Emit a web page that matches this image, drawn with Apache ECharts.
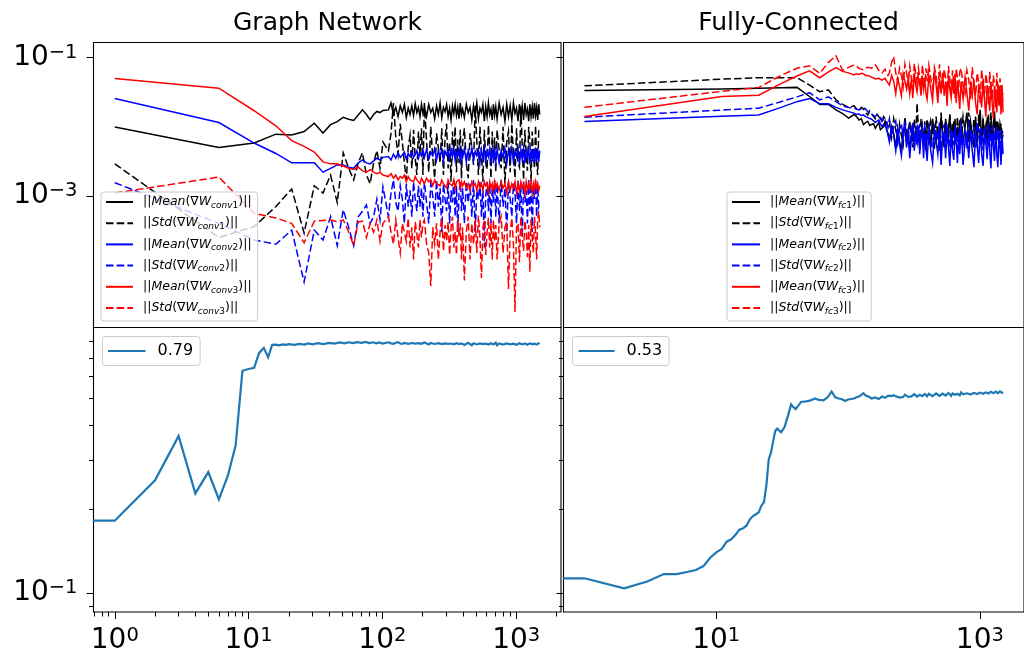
<!DOCTYPE html>
<html>
<head>
<meta charset="utf-8">
<script src="https://cdn.jsdelivr.net/npm/echarts@6/dist/echarts.min.js"></script>
<style>
html, body { margin: 0; padding: 0; background: #fff; }
#chart { width: 1024px; height: 655px; }
</style>
</head>
<body>
<div id="chart"></div>
<script>
// ---- sampled epochs ----
const epochTail = [111,116,121,126,131,136,141,146,151,156,161,166,171,176,181,186,191,196,201,
  206,214,222,230,238,246,254,262,270,278,286,294,302,310,318,326,334,342,350,358,366,374,382,390,398,
  410,424,438,452,466,480,494,508,522,536,550,564,578,592,606,620,634,648,662,676,690,704,
  720,746,772,798,824,850,876,902,928,954,980,1006,1032,1058,1084,1110,1136,1162,1188,1214,1240,1266,1292,1318,1344,1370,1396,1422,1448,1474,1500];
const epochsConv = [1,6,11,16,21,26,31,36,41,46,51,56,61,66,71,76,81,86,91,96,101].concat(epochTail);
const epochsFc = [1,11,21,31,41,51,61,71,81,91,101].concat(epochTail);
const epochsAccConv = [0.69,1,2,3,4,5,6,7,8,9,10,11,12,13,14,15,16,17,18,19,20,
  22,24,26,28,30,33,36,40,44,48,52,56,60,65,70,75,80,85,90,95,100].concat(epochTail);
const epochsAccFc = [0.69,1,2,3,4,5,6,7,8,9,10,11,12,13,14,15,16,17,18,19,20,
  21,22,23,24,25,26,27,28,29,30,31,32,33,34,35,36,37,38,39,40,
  44,48,52,56,60,65,70,75,80,85,90,95,100].concat(epochTail);

// ---- graph network: gradient norms per layer ----
const meanConv1 = [0.0099,0.0050,0.0058,0.0078,0.0076,0.0085,0.0112,0.0081,0.0107,0.0118,0.0137,0.0128,0.0123,0.0148,0.0175,0.0150,0.0126,0.0150,0.0166,0.0160,0.0172,
  0.0175,0.022,0.0150,0.019,0.0140,0.020,0.0160,0.021,0.0135,0.0185,0.0150,0.020,0.0145,0.0215,0.0160,0.0190,0.0140,0.021,0.0155,
  0.0195,0.0140,0.021,0.0160,0.0185,0.0130,0.020,0.0150,0.022,0.0135,0.019,0.0165,0.021,0.0140,0.0185,0.0125,0.020,0.0155,0.021,0.0145,0.0190,0.0130,0.022,0.0150,0.0180,
  0.0135,0.021,0.0160,0.0190,0.0125,0.020,0.0145,0.022,0.0130,0.0185,0.0160,0.021,0.0120,0.0195,0.0140,0.022,0.0150,0.0180,0.0125,0.021,0.0145,0.0195,
  0.0130,0.022,0.0150,0.0190,0.0120,0.021,0.0140,0.0200,0.0125,0.022,0.0155,0.0185,0.0120,0.021,0.0135,0.0200,0.0125,0.022,0.0150,0.0180,0.0120,0.021,0.0140,0.0195,0.0130,0.022,0.0145,0.0190,0.0125,0.021,0.0150];
const stdConv1 = [0.0029,0.00025,0.00036,0.0007,0.00126,0.00029,0.0014,0.0011,0.0020,0.0008,0.0042,0.0025,0.0017,0.0030,0.0042,0.0020,0.0015,0.0030,0.0045,0.0025,0.0060,
  0.0045,0.0080,0.022,0.0070,0.0040,0.011,0.0060,0.0030,0.0017,0.0050,0.0075,0.0025,0.0090,0.0035,0.0020,0.0085,0.0040,0.0095,0.0020,
  0.022,0.0060,0.0022,0.0100,0.0035,0.0018,0.0080,0.0050,0.0030,0.0095,0.0020,0.0070,0.0110,0.0025,0.0060,0.0016,0.0085,0.0040,0.0100,0.0022,0.0065,0.0030,0.0090,0.0018,0.0060,
  0.0095,0.0030,0.0018,0.0080,0.0050,0.0028,0.020,0.0060,0.0020,0.0100,0.0040,0.0016,0.0090,0.0035,0.0024,0.0105,0.0050,0.0018,0.0085,0.0030,0.0070,0.0022,
  0.0090,0.0045,0.0025,0.0100,0.0015,0.0060,0.0085,0.0022,0.0110,0.0040,0.0018,0.0095,0.0030,0.0026,0.020,0.0050,0.0017,0.0090,0.0035,0.0023,0.0100,0.0060,0.0016,0.0085,0.0040,0.0025,0.0105,0.0030,0.0020,0.0090,0.0090];
const meanConv2 = [0.0255,0.0115,0.0058,0.0041,0.0030,0.0030,0.0030,0.0022,0.0025,0.0028,0.0028,0.0026,0.0025,0.0030,0.0033,0.0030,0.0029,0.0032,0.0035,0.0033,0.0036,
  0.0037,0.0033,0.0040,0.0035,0.0042,0.0036,0.0039,0.0043,0.0034,0.0041,0.0037,0.0044,0.0036,0.0040,0.0045,0.0035,0.0042,0.0038,0.0046,
  0.0036,0.0047,0.0034,0.0043,0.0038,0.0048,0.0033,0.0045,0.0037,0.0047,0.0032,0.0044,0.0039,0.0048,0.0034,0.0046,0.0036,0.0049,0.0033,0.0044,0.0038,0.0047,0.0032,0.0045,0.0036,
  0.0048,0.0031,0.0045,0.0036,0.0049,0.0032,0.0044,0.0038,0.0047,0.0030,0.0046,0.0035,0.0049,0.0031,0.0044,0.0037,0.0048,0.0030,0.0046,0.0034,0.0049,0.0032,
  0.0047,0.0030,0.0045,0.0036,0.0049,0.0029,0.0046,0.0034,0.0048,0.0031,0.0044,0.0037,0.0049,0.0029,0.0046,0.0033,0.0048,0.0030,0.0045,0.0036,0.0049,0.0029,0.0047,0.0032,0.0048,0.0030,0.0044,0.0035,0.0049,0.0031,0.0045];
const stdConv2 = [0.00155,0.0004,0.00023,0.0002,0.00032,0.000057,0.00032,0.00023,0.0005,0.00019,0.00063,0.00035,0.00019,0.0005,0.0006,0.00074,0.0004,0.0005,0.0009,0.00045,0.00135,
  0.0005,0.0011,0.0017,0.0008,0.0006,0.0014,0.0009,0.0004,0.0015,0.0007,0.0012,0.0005,0.0016,0.0009,0.0006,0.0014,0.0007,0.0013,0.0005,
  0.0016,0.0008,0.0004,0.0015,0.0010,0.0005,0.0017,0.0007,0.0013,0.0003,0.0015,0.0009,0.0006,0.0016,0.0004,0.0012,0.0008,0.0017,0.0005,0.0014,0.0003,0.0011,0.0016,0.0006,0.0013,
  0.0004,0.0016,0.0008,0.0015,0.0005,0.0017,0.0003,0.0012,0.0009,0.0016,0.0005,0.0014,0.00018,0.0010,0.0016,0.0006,0.0015,0.0004,0.0013,0.0008,0.0017,0.0005,
  0.0015,0.0004,0.0017,0.0007,0.0013,0.0003,0.0016,0.0009,0.0005,0.0015,0.0011,0.0004,0.0017,0.0006,0.0014,0.00025,0.0016,0.0008,0.0012,0.0004,0.0017,0.0006,0.0015,0.0003,0.0013,0.0009,0.0017,0.0005,0.0014,0.0007,0.0008];
const meanConv3 = [0.0497,0.036,0.017,0.0103,0.0063,0.0052,0.0043,0.0031,0.0029,0.0029,0.0027,0.0025,0.0024,0.0026,0.0023,0.0022,0.0024,0.0022,0.0021,0.0022,0.0020,
  0.0019,0.0021,0.0018,0.0020,0.0017,0.0019,0.0018,0.0020,0.0016,0.0019,0.0017,0.0018,0.0016,0.0019,0.0017,0.0018,0.0015,0.0018,0.0017,
  0.0015,0.0018,0.0016,0.0017,0.0014,0.0017,0.0015,0.0016,0.0014,0.0017,0.0015,0.0016,0.0013,0.0017,0.0015,0.0016,0.0014,0.0017,0.0013,0.0016,0.0015,0.0017,0.0013,0.0016,0.0014,
  0.0016,0.0013,0.0015,0.0012,0.0016,0.0014,0.0015,0.0012,0.0016,0.0013,0.0015,0.0012,0.0016,0.0014,0.0015,0.0011,0.0016,0.0013,0.0015,0.0012,0.0016,0.0013,
  0.0015,0.0012,0.0016,0.0013,0.0015,0.0011,0.0016,0.0012,0.0015,0.0013,0.0016,0.0011,0.0015,0.0012,0.0016,0.0013,0.0015,0.0011,0.0016,0.0012,0.0015,0.0013,0.0016,0.0011,0.0015,0.0012,0.0016,0.0013,0.0015,0.0012,0.0014];
const stdConv3 = [0.0011,0.00187,0.00056,0.00048,0.0004,0.00021,0.00043,0.00044,0.00045,0.00042,0.00045,0.00030,0.00019,0.00042,0.00043,0.00025,0.00040,0.00030,0.00045,0.00022,0.00040,
  0.00050,0.00030,0.00020,0.00045,0.00025,0.00015,0.00040,0.00030,0.00022,0.00048,0.00018,0.00035,0.00012,0.00042,0.00028,0.00018,0.00045,0.00025,0.00040,
  0.00045,0.00020,0.00015,0.00005,0.00035,0.00020,0.00040,0.00012,0.00030,0.00048,0.00016,0.00038,0.00022,0.00042,0.00014,0.00035,0.00050,0.00018,0.00030,0.00014,0.00045,0.00025,0.00040,0.00012,0.00035,
  0.00006,0.00030,0.00050,0.00012,0.00040,0.00020,0.00045,0.00015,0.00052,0.00025,0.000065,0.00035,0.00045,0.00014,0.00030,0.00048,0.00018,0.00040,0.00012,0.00045,0.00022,0.00038,
  0.00012,0.00040,0.00050,0.00015,0.00035,0.00042,0.000045,0.00030,0.00048,0.00020,0.000021,0.00035,0.00040,0.00011,0.00050,0.00025,0.00016,0.00044,0.00030,0.00013,0.00038,0.00008,0.00046,0.00025,0.00015,0.00050,0.00030,0.00012,0.00045,0.00060,0.00035];

// ---- fully-connected: gradient norms per layer ----
const meanFc1 = [0.0333,0.0352,0.036,0.0365,0.037,0.0273,0.021,0.021,0.0175,0.0155,0.0133,
  0.0150,0.0140,0.0125,0.0130,0.0107,0.0115,0.0120,0.0105,0.0100,0.0110,0.0095,0.0100,0.0115,0.0090,0.0085,0.0100,0.0120,0.0090,0.0080,
  0.0065,0.0100,0.0080,0.0050,0.0095,0.0060,0.0045,0.0085,0.0105,0.0060,0.0090,0.0042,0.0075,0.0110,0.0055,0.0085,0.0060,0.0100,0.0048,0.0080,0.0105,0.0055,0.0090,0.0045,0.0095,
  0.0110,0.0050,0.0130,0.0075,0.0060,0.0100,0.0045,0.0140,0.0080,0.0055,0.0120,0.0060,0.0090,0.0150,0.0050,0.0110,0.0070,0.0130,0.0055,0.0100,0.0065,0.0120,
  0.0130,0.0055,0.0100,0.0160,0.0060,0.0120,0.0075,0.0050,0.0140,0.0065,0.0110,0.0175,0.0055,0.0130,0.0070,0.0100,0.0060,0.0150,0.0070,0.0120,0.0055,0.0110,0.0165,0.0065,0.0120,0.0080,0.0060,0.0110,0.0090,0.0065,0.0076];
const stdFc1 = [0.039,0.0486,0.051,0.051,0.051,0.040,0.032,0.034,0.0245,0.021,0.019,
  0.020,0.018,0.017,0.019,0.018,0.016,0.0148,0.017,0.016,0.014,0.013,0.015,0.015,0.013,0.0115,0.014,0.014,0.012,0.010,
  0.012,0.0070,0.013,0.0090,0.0060,0.011,0.0075,0.0055,0.014,0.0080,0.0065,0.012,0.0090,0.0050,0.013,0.0070,0.022,0.0085,0.0060,0.013,0.0075,0.0055,0.012,0.0080,0.013,
  0.0055,0.012,0.0090,0.0048,0.014,0.0070,0.0060,0.016,0.0085,0.0050,0.013,0.0075,0.0058,0.015,0.0090,0.0052,0.012,0.0080,0.0060,0.014,0.0070,0.012,
  0.0060,0.014,0.0085,0.0055,0.016,0.0075,0.0065,0.013,0.0090,0.0050,0.015,0.0070,0.0060,0.012,0.0085,0.0055,0.014,0.0080,0.0065,0.016,0.0070,0.0058,0.013,0.0085,0.0062,0.012,0.0075,0.0070,0.011,0.0080,0.0090];
const meanFc2 = [0.0119,0.0142,0.0148,0.019,0.023,0.0256,0.0214,0.0214,0.019,0.0175,0.0165,
  0.0157,0.0150,0.0152,0.0145,0.0148,0.0140,0.0135,0.0130,0.0128,0.0120,0.0115,0.0118,0.0125,0.0110,0.0100,0.0108,0.0115,0.0095,0.0090,
  0.0060,0.0100,0.0075,0.0045,0.0090,0.0055,0.0038,0.0085,0.0100,0.0050,0.0085,0.0035,0.0070,0.0095,0.0045,0.0080,0.0055,0.0100,0.0040,0.0075,0.0090,0.0035,0.0080,0.0050,0.0032,
  0.0090,0.0045,0.0030,0.0085,0.0060,0.0040,0.0095,0.0028,0.0070,0.0080,0.0035,0.0090,0.0050,0.0027,0.0085,0.0045,0.0033,0.0090,0.0060,0.0030,0.0080,0.0040,
  0.0095,0.0028,0.0060,0.0080,0.0035,0.0090,0.0045,0.0026,0.0085,0.0055,0.0030,0.0095,0.0040,0.0027,0.0080,0.0060,0.0034,0.0090,0.0045,0.0025,0.0085,0.0055,0.0032,0.0090,0.0040,0.0026,0.0080,0.0050,0.0028,0.0075,0.0040];
const stdFc2 = [0.0137,0.0174,0.0185,0.023,0.027,0.031,0.0244,0.027,0.023,0.020,0.019,
  0.0185,0.0180,0.0175,0.0182,0.019,0.018,0.0165,0.016,0.015,0.0155,0.014,0.015,0.016,0.014,0.0120,0.013,0.0135,0.0115,0.0100,
  0.0130,0.0075,0.0100,0.0120,0.0060,0.0095,0.0110,0.0070,0.0125,0.0055,0.0090,0.0105,0.0065,0.0115,0.0050,0.0085,0.0100,0.0060,0.0110,0.0070,0.0095,0.0050,0.0100,0.0080,0.0060,
  0.0110,0.0060,0.0050,0.0100,0.0080,0.0065,0.0115,0.0048,0.0090,0.0105,0.0058,0.0110,0.0070,0.0050,0.0095,0.0080,0.0055,0.0105,0.0065,0.0048,0.0095,0.0070,
  0.0105,0.0055,0.0085,0.0048,0.0110,0.0070,0.0060,0.0100,0.0050,0.0115,0.0075,0.0055,0.0095,0.0045,0.0105,0.0065,0.0060,0.0110,0.0050,0.0090,0.0100,0.0055,0.0080,0.0048,0.0100,0.0065,0.0055,0.0095,0.0050,0.0085,0.0080];
const meanFc3 = [0.014,0.0273,0.0285,0.042,0.054,0.064,0.051,0.062,0.0717,0.063,0.060,
  0.056,0.058,0.057,0.059,0.058,0.055,0.055,0.053,0.052,0.050,0.049,0.051,0.050,0.048,0.047,0.049,0.050,0.046,0.045,
  0.040,0.055,0.045,0.030,0.050,0.038,0.028,0.058,0.045,0.035,0.052,0.030,0.048,0.026,0.060,0.040,0.032,0.050,0.042,0.028,0.055,0.035,0.050,0.030,0.025,
  0.055,0.035,0.024,0.065,0.040,0.022,0.050,0.030,0.060,0.028,0.045,0.020,0.055,0.035,0.026,0.048,0.030,0.058,0.022,0.045,0.030,0.018,
  0.045,0.025,0.052,0.030,0.017,0.040,0.028,0.048,0.022,0.015,0.042,0.030,0.019,0.050,0.025,0.014,0.040,0.028,0.017,0.045,0.022,0.013,0.038,0.026,0.016,0.042,0.020,0.035,0.015,0.040,0.016];
const stdFc3 = [0.0191,0.0324,0.037,0.055,0.070,0.076,0.059,0.085,0.106,0.065,0.072,
  0.078,0.075,0.070,0.068,0.066,0.070,0.072,0.071,0.070,0.074,0.078,0.072,0.065,0.062,0.060,0.064,0.068,0.060,0.055,
  0.060,0.085,0.103,0.060,0.045,0.070,0.055,0.038,0.080,0.060,0.040,0.075,0.050,0.035,0.082,0.060,0.042,0.070,0.052,0.032,0.078,0.055,0.040,0.070,0.045,
  0.078,0.050,0.036,0.072,0.055,0.030,0.080,0.045,0.034,0.068,0.050,0.028,0.075,0.048,0.032,0.065,0.045,0.026,0.070,0.050,0.035,0.062,
  0.070,0.040,0.030,0.065,0.048,0.025,0.072,0.040,0.028,0.060,0.045,0.022,0.068,0.038,0.026,0.058,0.042,0.020,0.062,0.036,0.024,0.055,0.040,0.019,0.060,0.035,0.022,0.050,0.038,0.020,0.030];

// ---- accuracy ----
const accConv = [0.182,0.182,0.254,0.367,0.228,0.272,0.217,0.264,0.339,0.629,0.638,0.644,0.729,0.760,0.703,0.779,0.781,0.776,0.782,0.779,0.784,
  0.779,0.786,0.781,0.788,0.783,0.790,0.784,0.792,0.787,0.795,0.789,0.796,0.791,0.797,0.792,0.798,0.791,0.796,0.789,0.795,0.788,
  0.796,0.789,0.786,0.793,0.797,0.788,0.785,0.792,0.795,0.786,0.784,0.791,0.796,0.787,0.783,0.790,0.794,0.786,0.784,
  0.795,0.788,0.782,0.791,0.794,0.785,0.781,0.790,0.793,0.784,0.780,0.789,0.794,0.786,0.781,0.788,0.792,0.783,0.779,0.790,0.793,0.784,0.776,0.789,0.792,
  0.779,0.788,0.793,0.783,0.777,0.790,0.791,0.782,0.778,0.789,0.794,0.784,0.776,0.787,0.792,0.781,0.779,0.790,0.791,0.782,0.775,0.793,
  0.777,0.788,0.792,0.781,0.776,0.789,0.794,0.783,0.778,0.787,0.791,0.780,0.775,0.790,0.793,0.782,0.777,0.788,0.792,0.780,0.776,0.789,0.794,0.783,0.778,0.787,0.791,0.781,0.776,0.790,0.787];
const accFc = [0.113,0.113,0.104,0.110,0.117,0.117,0.119,0.121,0.125,0.134,0.140,0.144,0.153,0.156,0.162,0.169,0.171,0.175,0.184,0.189,0.192,
  0.195,0.206,0.212,0.243,0.302,0.319,0.350,0.382,0.390,0.385,0.378,0.377,0.395,0.415,0.433,0.455,0.476,0.468,0.462,0.458,
  0.486,0.488,0.492,0.500,0.494,0.492,0.505,0.530,0.505,0.500,0.497,0.490,0.496,
  0.500,0.505,0.508,0.515,0.522,0.512,0.510,0.503,0.500,0.502,0.504,0.500,0.498,0.503,0.508,0.505,0.503,0.507,0.512,
  0.506,0.510,0.514,0.509,0.508,0.504,0.498,0.506,0.516,0.511,0.507,0.515,0.509,0.513,0.518,0.510,0.508,0.514,0.516,0.511,0.510,0.517,0.519,0.512,0.509,
  0.520,0.513,0.510,0.518,0.522,0.514,0.511,0.519,0.521,0.513,0.512,0.520,0.523,0.515,0.511,0.521,0.524,0.516,0.512,0.520,0.523,0.513,
  0.526,0.518,0.513,0.522,0.527,0.517,0.514,0.524,0.528,0.519,0.515,0.525,0.530,0.520,0.514,0.526,0.531,0.521,0.516,0.528,0.533,0.522,0.517,0.529,0.534,0.523,0.518,0.530,0.536,0.524,0.527];

// ---- axes (decades) ----
const xRange = [-0.159, 3.335];
const yRangeGrad = [-4.903, -0.783];
const yRangeAcc = [-1.068, -0.046];
const xMajorLeft = [1, 10, 100, 1000];
const xMajorRight = [10, 1000];
const xMinor = [0.7,0.8,0.9,2,3,4,5,6,7,8,9,20,30,40,50,60,70,80,90,200,300,400,500,600,700,800,900,2000];
const yMajorGrad = [0.001, 0.1];
const yMajorAcc = [0.1];
const yMinorAcc = [0.09,0.2,0.3,0.4,0.5,0.6,0.7,0.8];

const FONT = 'DejaVu Sans';
const BLUE_ACC = '#1f77b4';
const DASH = [7.5, 3.2];
const lg = Math.log10;

function points(xs, ys, name) {
  if (xs.length !== ys.length) throw new Error('length mismatch in ' + name + ': ' + xs.length + ' vs ' + ys.length);
  return xs.map((x, i) => [lg(x), lg(ys[i])]);
}

const convSeries = [
  { name: 'mc1', label: '||{i|Mean}(∇{i|W}{s|conv}{d|1})||', ys: meanConv1, color: '#000000', dashed: false },
  { name: 'sc1', label: '||{i|Std}(∇{i|W}{s|conv}{d|1})||', ys: stdConv1, color: '#000000', dashed: true },
  { name: 'mc2', label: '||{i|Mean}(∇{i|W}{s|conv}{d|2})||', ys: meanConv2, color: '#0000ff', dashed: false },
  { name: 'sc2', label: '||{i|Std}(∇{i|W}{s|conv}{d|2})||', ys: stdConv2, color: '#0000ff', dashed: true },
  { name: 'mc3', label: '||{i|Mean}(∇{i|W}{s|conv}{d|3})||', ys: meanConv3, color: '#ff0000', dashed: false },
  { name: 'sc3', label: '||{i|Std}(∇{i|W}{s|conv}{d|3})||', ys: stdConv3, color: '#ff0000', dashed: true }
];
const fcSeries = [
  { name: 'mf1', label: '||{i|Mean}(∇{i|W}{s|fc}{d|1})||', ys: meanFc1, color: '#000000', dashed: false },
  { name: 'sf1', label: '||{i|Std}(∇{i|W}{s|fc}{d|1})||', ys: stdFc1, color: '#000000', dashed: true },
  { name: 'mf2', label: '||{i|Mean}(∇{i|W}{s|fc}{d|2})||', ys: meanFc2, color: '#0000ff', dashed: false },
  { name: 'sf2', label: '||{i|Std}(∇{i|W}{s|fc}{d|2})||', ys: stdFc2, color: '#0000ff', dashed: true },
  { name: 'mf3', label: '||{i|Mean}(∇{i|W}{s|fc}{d|3})||', ys: meanFc3, color: '#ff0000', dashed: false },
  { name: 'sf3', label: '||{i|Std}(∇{i|W}{s|fc}{d|3})||', ys: stdFc3, color: '#ff0000', dashed: true }
];
const legendText = {};
convSeries.concat(fcSeries).forEach(s => { legendText[s.name] = s.label; });

function powLabel(v) {
  const e = Math.round(v);
  return '{b|10}{s|' + (e < 0 ? '\u2212' + (-e) : String(e)) + '}';
}
const powRich = {
  b: { fontFamily: FONT, fontSize: 28, lineHeight: 30, color: '#000' },
  s: { fontFamily: FONT, fontSize: 19.5, lineHeight: 20, verticalAlign: 'top', color: '#000' }
};

function axis(gridIndex, range, position, opts) {
  const o = Object.assign({ ticks: null, tickLen: 7, labels: false, margin: 14 }, opts);
  return {
    type: 'value', gridIndex: gridIndex, min: range[0], max: range[1], position: position,
    axisLine: { show: false, onZero: false }, splitLine: { show: false },
    axisTick: o.ticks ? { show: true, inside: false, length: o.tickLen, customValues: o.ticks.map(lg),
      lineStyle: { color: '#000', width: 1 } } : { show: false },
    axisLabel: o.labels ? { show: true, customValues: o.ticks.map(lg), formatter: powLabel, rich: powRich, margin: o.margin }
      : { show: false }
  };
}

const grids = [
  { left: 93.5, top: 42.5, width: 467.5, height: 285 },
  { left: 563.5, top: 42.5, width: 468, height: 285 },
  { left: 93.5, top: 327.5, width: 467.5, height: 285.5 },
  { left: 563.5, top: 327.5, width: 468, height: 285.5 }
].map(g => Object.assign(g, { show: true, borderColor: '#000', borderWidth: 1.1, backgroundColor: 'transparent' }));

const xAxes = [
  axis(0, xRange, 'bottom', {}),
  axis(1, xRange, 'bottom', {}),
  axis(2, xRange, 'bottom', { ticks: xMajorLeft, labels: true, margin: 14 }),
  axis(3, xRange, 'bottom', { ticks: xMajorRight, labels: true, margin: 14 }),
  axis(2, xRange, 'bottom', { ticks: xMinor, tickLen: 4.5 })
];
const yAxes = [
  axis(0, yRangeGrad, 'left', { ticks: yMajorGrad, labels: true, margin: 16 }),
  axis(1, yRangeGrad, 'left', { ticks: yMajorGrad }),
  axis(2, yRangeAcc, 'left', { ticks: yMajorAcc, labels: true, margin: 16 }),
  axis(3, yRangeAcc, 'left', { ticks: yMajorAcc }),
  axis(2, yRangeAcc, 'left', { ticks: yMinorAcc, tickLen: 4.5 }),
  axis(3, yRangeAcc, 'left', { ticks: yMinorAcc, tickLen: 4.5 })
];

function lineSeries(name, xs, ys, axisIdx, color, width, dashed) {
  return {
    type: 'line', name: name, xAxisIndex: axisIdx, yAxisIndex: axisIdx,
    data: points(xs, ys, name), symbol: 'none', showSymbol: false, clip: true,
    color: color, itemStyle: { color: color },
    lineStyle: { color: color, width: width, type: dashed ? DASH : 'solid', cap: 'butt', join: 'miter' },
    emphasis: { disabled: true }, silent: true, z: 2
  };
}

const series = [];
convSeries.forEach(s => series.push(lineSeries(s.name, epochsConv, s.ys, 0, s.color, 1.5, s.dashed)));
fcSeries.forEach(s => series.push(lineSeries(s.name, epochsFc, s.ys, 1, s.color, 1.5, s.dashed)));
series.push(lineSeries('0.79', epochsAccConv, accConv, 2, BLUE_ACC, 2.2, false));
series.push(lineSeries('0.53', epochsAccFc, accFc, 3, BLUE_ACC, 2.2, false));

const gradLegendText = {
  fontFamily: FONT, fontSize: 12.5, lineHeight: 16, color: '#000', padding: [0, 0, 0, 5],
  rich: {
    i: { fontFamily: FONT, fontSize: 12.5, lineHeight: 16, fontStyle: 'italic', color: '#000' },
    s: { fontFamily: FONT, fontSize: 9, lineHeight: 9, fontStyle: 'italic', verticalAlign: 'bottom', color: '#000' },
    d: { fontFamily: FONT, fontSize: 9, lineHeight: 9, verticalAlign: 'bottom', color: '#000' }
  }
};
// legend keys show only the line, no marker
const legendBox = {
  orient: 'vertical', selectedMode: false, backgroundColor: 'rgba(255,255,255,0.8)',
  borderColor: '#cccccc', borderWidth: 1, borderRadius: 3, z: 10,
  itemStyle: { color: 'rgba(0,0,0,0)', borderColor: 'rgba(0,0,0,0)', borderWidth: 0, opacity: 0 }
};
const legends = [
  Object.assign({}, legendBox, {
    data: convSeries.map(s => s.name), left: 101, top: 192, padding: [2, 6, 5, 4],
    itemWidth: 27, itemHeight: 14, itemGap: 5.2, formatter: n => legendText[n], textStyle: gradLegendText
  }),
  Object.assign({}, legendBox, {
    data: fcSeries.map(s => s.name), left: 727, top: 192, padding: [2, 6, 5, 4],
    itemWidth: 28, itemHeight: 14, itemGap: 5.2, formatter: n => legendText[n], textStyle: gradLegendText
  }),
  Object.assign({}, legendBox, {
    data: ['0.79'], left: 102.5, top: 336.5, padding: [5, 7, 5, 4.5],
    itemWidth: 37.5, itemHeight: 14, textStyle: { fontFamily: FONT, fontSize: 16, lineHeight: 19, color: '#000', padding: [0, 0, 0, 7] }
  }),
  Object.assign({}, legendBox, {
    data: ['0.53'], left: 572.5, top: 336.5, padding: [5, 7, 5, 5],
    itemWidth: 36, itemHeight: 14, textStyle: { fontFamily: FONT, fontSize: 16, lineHeight: 19, color: '#000', padding: [0, 0, 0, 7] }
  })
];

const titleStyle = { fontFamily: FONT, fontSize: 25, fontWeight: 'normal', color: '#000' };
const titles = [
  { text: 'Graph Network', left: 327.5, top: 11, textAlign: 'center', padding: 0, textStyle: titleStyle },
  { text: 'Fully-Connected', left: 798.5, top: 11, textAlign: 'center', padding: 0, textStyle: titleStyle }
];

const chart = echarts.init(document.getElementById('chart'), null, { renderer: 'canvas', width: 1024, height: 655 });
chart.setOption({
  animation: false,
  backgroundColor: '#ffffff',
  title: titles,
  grid: grids,
  xAxis: xAxes,
  yAxis: yAxes,
  legend: legends,
  series: series
});
</script>
</body>
</html>
